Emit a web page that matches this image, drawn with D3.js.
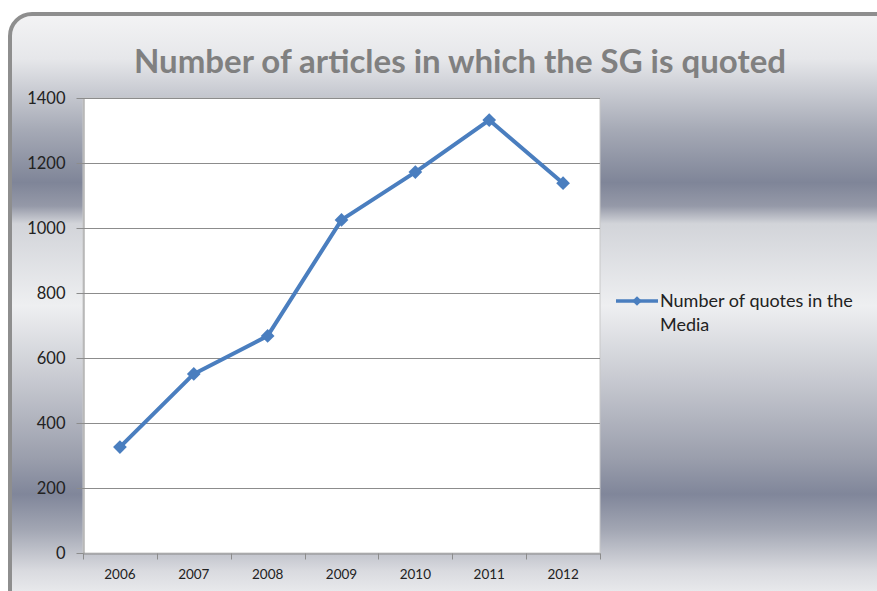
<!DOCTYPE html>
<meta charset="utf-8">
<style>
body {
  margin: 0;
  background: #fff;
  font-family: Lato, "Open Sans", sans-serif;
}
.grid line {
  stroke: #8c8c8c;
  stroke-width: 1;
}
.axis path, .axis line {
  stroke: #8c8c8c;
  stroke-width: 1;
  fill: none;
}
.axis text {
  fill: #222;
  font-family: Lato, "Open Sans", sans-serif;
}
</style>
<body>
<script src="https://cdn.jsdelivr.net/npm/d3@7"></script>
<script>

var width = 877,
    height = 591;

var years = ["2006", "2007", "2008", "2009", "2010", "2011", "2012"];
var quotes = [326, 551, 668, 1025, 1172, 1332, 1138];
var yTicks = [0, 200, 400, 600, 800, 1000, 1200, 1400];
var seriesName = ["Number of quotes in the", "Media"];
var title = "Number of articles in which the SG is quoted";

var plot = {left: 83, right: 600, top: 98, bottom: 553};

var svg = d3.select("body").append("svg")
    .attr("width", width)
    .attr("height", height);

// silver banded background
var defs = svg.append("defs");
var grad = defs.append("linearGradient")
    .attr("id", "bg")
    .attr("gradientUnits", "userSpaceOnUse")
    .attr("x1", 0).attr("y1", 12).attr("x2", 0).attr("y2", 600);

[[0, "#f4f4f5"], [0.08, "#e6e7ea"], [0.2, "#a6aab6"], [0.29, "#7f8598"],
 [0.33, "#9599a8"], [0.36, "#d2d4d9"], [0.5, "#eeeff1"], [0.62, "#c9cbd2"],
 [0.76, "#9a9eac"], [0.82, "#80869a"], [0.88, "#a2a6b3"], [0.95, "#d9dadf"],
 [1, "#eeeff1"]].forEach(function(s) {
  grad.append("stop").attr("offset", s[0]).attr("stop-color", s[1]);
});

svg.append("rect")
    .attr("x", 10)
    .attr("y", 14)
    .attr("width", 890)
    .attr("height", 600)
    .attr("rx", 22)
    .attr("fill", "url(#bg)")
    .attr("stroke", "#8e8e8e")
    .attr("stroke-width", 4);

svg.append("text")
    .attr("x", 460)
    .attr("y", 73)
    .attr("text-anchor", "middle")
    .attr("font-size", 33)
    .attr("font-weight", "bold")
    .attr("fill", "#808080")
    .text(title);

var x = d3.scaleBand()
    .domain(years)
    .range([plot.left, plot.right]);

var y = d3.scaleLinear()
    .domain([0, 1400])
    .range([plot.bottom, plot.top]);

svg.append("rect")
    .attr("x", plot.left)
    .attr("y", plot.top)
    .attr("width", plot.right - plot.left)
    .attr("height", plot.bottom - plot.top)
    .attr("fill", "#fff")
    .attr("stroke", "#c8c8c8")
    .attr("stroke-width", 1);

svg.append("g")
    .attr("class", "grid")
  .selectAll("line")
    .data(yTicks.slice(1))
  .enter().append("line")
    .attr("x1", plot.left)
    .attr("x2", plot.right)
    .attr("y1", function(d) { return Math.round(y(d)) + 0.5; })
    .attr("y2", function(d) { return Math.round(y(d)) + 0.5; });

var yAxis = svg.append("g")
    .attr("class", "axis")
    .attr("transform", "translate(" + (plot.left + 0.5) + ",0)")
    .call(d3.axisLeft(y).tickValues(yTicks).tickFormat(d3.format("d"))
      .tickSize(7).tickPadding(11).tickSizeOuter(0));
yAxis.selectAll("text").attr("font-size", 16.5);

var xAxis = svg.append("g")
    .attr("class", "axis")
    .attr("transform", "translate(0," + (plot.bottom + 0.5) + ")")
    .call(d3.axisBottom(x).tickSize(0).tickPadding(16));
xAxis.selectAll("text").attr("font-size", 13.5);

// tick marks between categories
xAxis.selectAll(".sep")
    .data(d3.range(years.length + 1))
  .enter().append("line")
    .attr("class", "sep")
    .attr("x1", function(i) { return Math.round(plot.left + i * x.step()) + 0.5; })
    .attr("x2", function(i) { return Math.round(plot.left + i * x.step()) + 0.5; })
    .attr("y1", 0)
    .attr("y2", 6);

var blue = "#4a7ebf";
var diamond = d3.symbol().type(d3.symbolDiamond2).size(120);

var line = d3.line()
    .x(function(d, i) { return x(years[i]) + x.bandwidth() / 2; })
    .y(function(d) { return y(d); });

svg.append("path")
    .datum(quotes)
    .attr("d", line)
    .attr("fill", "none")
    .attr("stroke", blue)
    .attr("stroke-width", 4)
    .attr("stroke-linejoin", "round");

svg.selectAll(".pt")
    .data(quotes)
  .enter().append("path")
    .attr("class", "pt")
    .attr("d", diamond)
    .attr("fill", blue)
    .attr("transform", function(d, i) {
      return "translate(" + (x(years[i]) + x.bandwidth() / 2) + "," + y(d) + ")";
    });

// legend
var legend = svg.append("g").attr("transform", "translate(616,301)");
legend.append("line")
    .attr("x1", 0).attr("x2", 42)
    .attr("stroke", blue)
    .attr("stroke-width", 3.5);
legend.append("path")
    .attr("d", d3.symbol().type(d3.symbolDiamond2).size(60))
    .attr("fill", blue)
    .attr("transform", "translate(21,0)");
legend.selectAll("text")
    .data(seriesName)
  .enter().append("text")
    .attr("x", 44)
    .attr("y", function(d, i) { return 6 + i * 24; })
    .attr("font-size", 18)
    .attr("fill", "#222")
    .text(function(d) { return d; });

</script>
